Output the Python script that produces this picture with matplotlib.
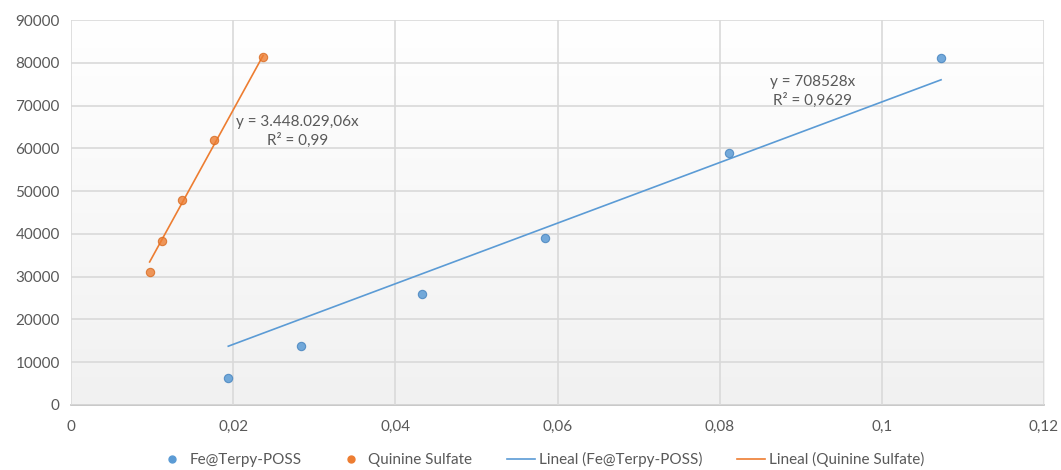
import numpy as np
import matplotlib.pyplot as plt
from matplotlib.lines import Line2D
from matplotlib.colors import LinearSegmentedColormap

# data
fe_x = [0.0194, 0.0284, 0.0433, 0.0585, 0.0812, 0.1073]
fe_y = [6300, 13800, 26000, 39000, 58800, 81100]
qs_x = [0.0097, 0.0112, 0.0137, 0.0176, 0.0237]
qs_y = [31100, 38300, 47900, 61900, 81300]
fe_slope = 708528
qs_slope = 3448029.06
fe_label = 'y = 708528x\nR² = 0,9629'
qs_label = 'y = 3.448.029,06x\nR² = 0,99'
x_ticks = [0, 0.02, 0.04, 0.06, 0.08, 0.1, 0.12]
x_ticklabels = ['0', '0,02', '0,04', '0,06', '0,08', '0,1', '0,12']
y_ticks = list(range(0, 90001, 10000))

BLUE = '#5B9BD5'
ORANGE = '#ED7D31'
TXT = '#595959'

plt.rcParams['font.family'] = ['Lato', 'DejaVu Sans']

fig = plt.figure(figsize=(10.61, 4.70), dpi=100)
ax = fig.add_axes([0.0669, 0.1383, 0.9171, 0.8191])

# gradient background (white at top, light grey at bottom)
grad = np.linspace(0, 1, 256).reshape(-1, 1)
ax.imshow(grad, extent=[0, 1, 0, 1], transform=ax.transAxes, aspect='auto',
          cmap=LinearSegmentedColormap.from_list('g', ['#f1f1f1', '#ffffff']),
          origin='lower', zorder=0)

ax.set_xlim(0, 0.12)
ax.set_ylim(0, 90000)
ax.set_xticks(x_ticks)
ax.set_xticklabels(x_ticklabels)
ax.set_yticks(y_ticks)
ax.set_yticklabels([str(v) for v in y_ticks])
ax.grid(True, color='#d9d9d9', linewidth=1.2, zorder=1)
ax.set_axisbelow(False)
for s in ['top', 'right', 'left']:
  ax.spines[s].set_visible(False)
ax.spines['bottom'].set_color('#bfbfbf')
ax.spines['bottom'].set_linewidth(1.2)
ax.tick_params(length=0, colors=TXT, labelsize=11)
ax.tick_params(axis='x', pad=11)
ax.tick_params(axis='y', pad=8)

# trendlines through origin
fe_line_x = np.array([min(fe_x), max(fe_x)])
qs_line_x = np.array([min(qs_x), max(qs_x)])
ax.plot(fe_line_x, fe_slope * fe_line_x, color=BLUE, linewidth=1.2, zorder=3)
ax.plot(qs_line_x, qs_slope * qs_line_x, color=ORANGE, linewidth=1.2, zorder=3)

ax.scatter(fe_x, fe_y, s=36, color=BLUE, edgecolor='#4a86c0', linewidth=0.8, alpha=0.85, zorder=4)
ax.scatter(qs_x, qs_y, s=36, color=ORANGE, edgecolor='#d86a20', linewidth=0.8, alpha=0.8, zorder=4)

ax.text(0.0279, 64000, qs_label, ha='center', va='center', color=TXT, fontsize=11,
        linespacing=1.3, zorder=5)
ax.text(0.0915, 73300, fe_label, ha='center', va='center', color=TXT, fontsize=11,
        linespacing=1.3, zorder=5)

handles = [
  Line2D([], [], marker='o', linestyle='', color=BLUE, markersize=5),
  Line2D([], [], marker='o', linestyle='', color=ORANGE, markersize=5),
  Line2D([], [], color=BLUE, linewidth=1.2),
  Line2D([], [], color=ORANGE, linewidth=1.2),
]
labels = ['Fe@Terpy-POSS', 'Quinine Sulfate', 'Lineal (Fe@Terpy-POSS)', 'Lineal (Quinine Sulfate)']
leg = fig.legend(handles, labels, loc='center', ncol=4, frameon=False,
                 bbox_to_anchor=(0.51, 0.022), fontsize=11, handlelength=1.8,
                 columnspacing=2.3, handletextpad=0.25)
for t in leg.get_texts():
  t.set_color(TXT)

fig.savefig('out.png', dpi=100)
